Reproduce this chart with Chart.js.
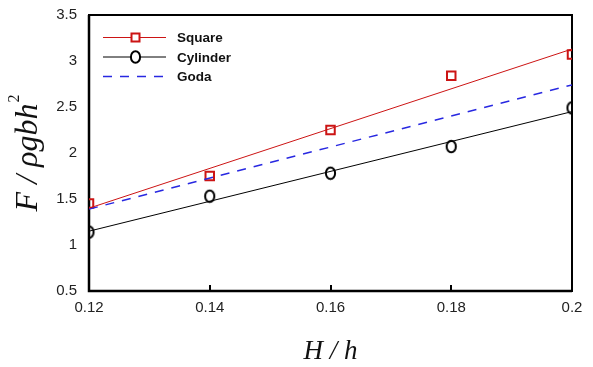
<!DOCTYPE html>
<html>
<head>
<meta charset="utf-8">
<script src="https://cdn.jsdelivr.net/npm/chart.js@4"></script>
<style>
  body { margin: 0; background: #fff; }
  #wrap { width: 593px; height: 367px; }
</style>
</head>
<body>
<div id="wrap"><canvas id="myChart"></canvas></div>
<script>
// H/h values and measured forces
var xValues = [0.12, 0.14, 0.16, 0.18, 0.2];
var squareData = [1.45, 1.75, 2.25, 2.84, 3.07];
var cylinderData = [1.14, 1.53, 1.78, 2.07, 2.49];

// fitted lines (end points)
var fitX = [0.12, 0.2];
var squareFit = [1.40, 3.13];
var cylinderFit = [1.15, 2.45];
var godaData = [1.39, 2.74];

var xTicks = [0.12, 0.14, 0.16, 0.18, 0.2];
var yTicks = [0.5, 1, 1.5, 2, 2.5, 3, 3.5];

function pts(xs, ys){
  var out = [];
  for (var i = 0; i < xs.length; i++) out.push({x: xs[i], y: ys[i]});
  return out;
}

var RED = "rgb(204, 20, 20)";
var BLUE = "rgb(40, 40, 225)";
var SANS = "'Liberation Sans', Arial, sans-serif";
var SERIF = "'Liberation Serif', 'Times New Roman', serif";

// slightly tall open circle, like the original markers
function makeOval(){
  var c = document.createElement("canvas");
  c.width = 13; c.height = 15;
  var g = c.getContext("2d");
  g.strokeStyle = "#000";
  g.lineWidth = 2;
  g.beginPath();
  g.ellipse(6.5, 7.5, 4.6, 5.8, 0, 0, Math.PI * 2);
  g.stroke();
  return c;
}
var oval = makeOval();

// legend + axis titles + inward ticks
var extras = {
  id: "extras",
  afterDraw: function(chart){
    var ctx = chart.ctx;
    var area = chart.chartArea;
    var xs = chart.scales.x;

    ctx.save();
    // inward tick marks on the x axis
    ctx.strokeStyle = "#000";
    ctx.lineWidth = 2;
    xTicks.forEach(function(v){
      var px = Math.round(xs.getPixelForValue(v));
      ctx.beginPath();
      ctx.moveTo(px, area.bottom);
      ctx.lineTo(px, area.bottom - 6);
      ctx.stroke();
    });

    // legend
    var items = [
      {label: "Square", color: RED, marker: "rect", dash: []},
      {label: "Cylinder", color: "#000", marker: "circle", dash: []},
      {label: "Goda", color: BLUE, marker: null, dash: [9, 8]}
    ];
    var x0 = 103, x1 = 166, y0 = 37.5, dy = 19.5;
    items.forEach(function(it, i){
      var y = y0 + i * dy;
      ctx.strokeStyle = it.color;
      ctx.lineWidth = it.marker ? 1 : 1.5;
      ctx.setLineDash(it.dash);
      ctx.beginPath();
      ctx.moveTo(x0, y);
      ctx.lineTo(x1, y);
      ctx.stroke();
      ctx.setLineDash([]);
      var cx = (x0 + x1) / 2 + 1;
      ctx.lineWidth = 2;
      if (it.marker == "rect") {
        ctx.fillStyle = "#fff";
        ctx.fillRect(cx - 4, y - 4, 8, 8);
        ctx.strokeRect(cx - 4, y - 4, 8, 8);
      } else if (it.marker == "circle") {
        ctx.fillStyle = "#fff";
        ctx.beginPath();
        ctx.ellipse(cx, y, 4.6, 5.8, 0, 0, Math.PI * 2);
        ctx.fill();
        ctx.stroke();
      }
      ctx.fillStyle = "#111";
      ctx.font = "bold 13.5px " + SANS;
      ctx.textAlign = "left";
      ctx.textBaseline = "middle";
      ctx.fillText(it.label, 177, y + 1);
    });

    // axis titles
    ctx.fillStyle = "#111";
    ctx.font = "italic 27px " + SERIF;
    ctx.textAlign = "center";
    ctx.textBaseline = "middle";
    ctx.fillText("H / h", (area.left + area.right) / 2, 352);

    ctx.translate(29, (area.top + area.bottom) / 2);
    ctx.rotate(-Math.PI / 2);
    var main = "F / \u03c1gbh";
    ctx.font = "italic 32px " + SERIF;
    var w = ctx.measureText(main).width;
    ctx.font = "16px " + SERIF;
    var ws = ctx.measureText("2").width;
    var start = -(w + ws + 1) / 2;
    ctx.textAlign = "left";
    ctx.font = "italic 32px " + SERIF;
    ctx.fillText(main, start, 0);
    ctx.font = "16px " + SERIF;
    ctx.fillText("2", start + w + 1, -14);
    ctx.restore();
  }
};

var chartData = {
  datasets: [
    {
      label: "Square fit",
      data: pts(fitX, squareFit),
      showLine: true,
      borderColor: RED,
      borderWidth: 1,
      pointRadius: 0
    },
    {
      label: "Cylinder fit",
      data: pts(fitX, cylinderFit),
      showLine: true,
      borderColor: "#000",
      borderWidth: 1,
      pointRadius: 0
    },
    {
      label: "Goda",
      data: pts(fitX, godaData),
      showLine: true,
      borderColor: BLUE,
      borderWidth: 1.5,
      borderDash: [9, 8],
      pointRadius: 0
    },
    {
      label: "Square",
      data: pts(xValues, squareData),
      showLine: false,
      pointStyle: "rect",
      pointRadius: 6,
      pointBorderWidth: 2,
      pointBorderColor: RED,
      pointBackgroundColor: "rgba(255,255,255,0)"
    },
    {
      label: "Cylinder",
      data: pts(xValues, cylinderData),
      showLine: false,
      pointStyle: oval,
      pointRadius: 6
    }
  ]
};

var options = {
  responsive: true,
  maintainAspectRatio: false,
  animation: false,
  layout: { padding: { left: 0, right: 21, top: 15, bottom: 0 } },
  plugins: {
    legend: { display: false },
    tooltip: { enabled: false }
  },
  scales: {
    x: {
      type: "linear",
      min: 0.12,
      max: 0.2,
      afterBuildTicks: function(scale){
        scale.ticks = xTicks.map(function(v){ return {value: v}; });
      },
      afterFit: function(scale){
        scale.height = 76;
        scale.paddingLeft = 0;
        scale.paddingRight = 0;
      },
      grid: { display: false, drawTicks: false },
      border: { display: false },
      ticks: {
        padding: 8,
        color: "#222",
        font: { family: SANS, size: 15 },
        callback: function(v){ return String(+v.toFixed(2)); }
      }
    },
    y: {
      type: "linear",
      min: 0.5,
      max: 3.5,
      afterBuildTicks: function(scale){
        scale.ticks = yTicks.map(function(v){ return {value: v}; });
      },
      afterFit: function(scale){
        scale.width = 89;
        scale.paddingTop = 0;
        scale.paddingBottom = 0;
      },
      grid: { display: false, drawTicks: false },
      border: { display: false },
      ticks: {
        padding: 12,
        color: "#222",
        font: { family: SANS, size: 15 },
        callback: function(v){ return String(v); }
      }
    }
  }
};

// plot frame: thick left/bottom, lighter top/right
var frame = {
  id: "frame",
  beforeDatasetsDraw: function(chart){
    var a = chart.chartArea, ctx = chart.ctx;
    ctx.save();
    ctx.strokeStyle = "#000";
    ctx.lineWidth = 2;
    ctx.beginPath();
    ctx.moveTo(a.left, a.top);
    ctx.lineTo(a.right, a.top);
    ctx.lineTo(a.right, a.bottom);
    ctx.lineTo(a.left, a.bottom);
    ctx.closePath();
    ctx.stroke();
    ctx.lineWidth = 2.5;
    ctx.beginPath();
    ctx.moveTo(a.left, a.top);
    ctx.lineTo(a.left, a.bottom);
    ctx.lineTo(a.right, a.bottom);
    ctx.stroke();
    ctx.restore();
  }
};

var ctx = document.getElementById("myChart");
var myChart = new Chart(ctx, {
  type: "scatter",
  data: chartData,
  options: options,
  plugins: [frame, extras]
});
</script>
</body>
</html>
